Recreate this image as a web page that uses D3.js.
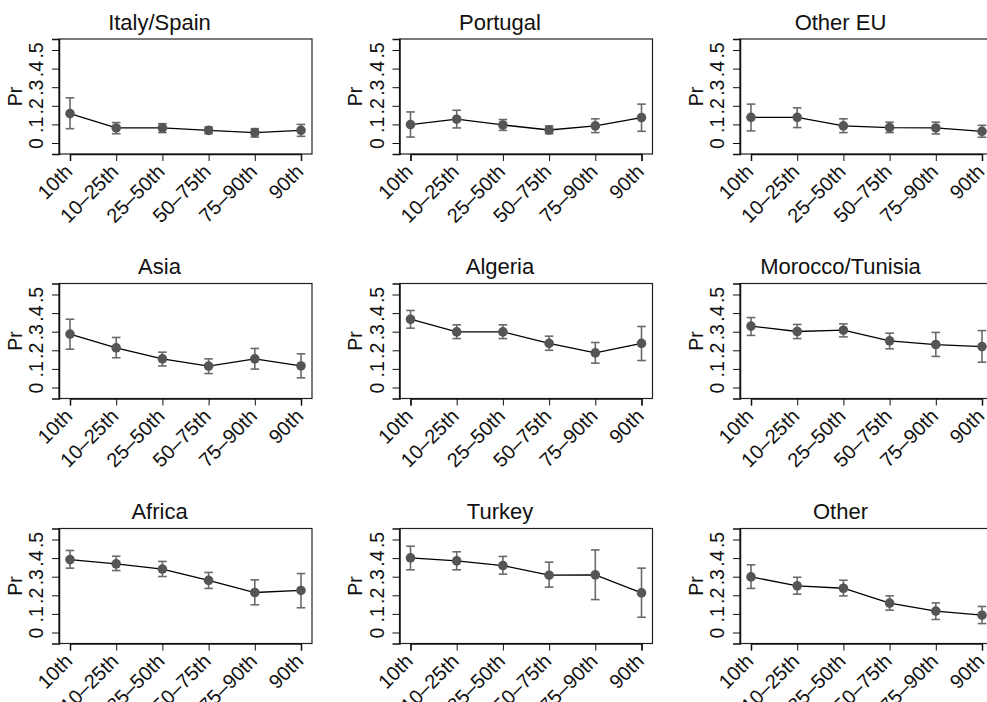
<!DOCTYPE html>
<html><head><meta charset="utf-8">
<script src="https://cdn.jsdelivr.net/npm/d3@7"></script>
<style>body{margin:0;background:#fff;} svg{display:block;font-family:"Liberation Sans",Arial,Helvetica,sans-serif;}</style>
</head><body>
<svg id="c" width="987" height="702"></svg>
<script>
const categories = ["10th","10–25th","25–50th","50–75th","75–90th","90th"];
const groups = ["Italy/Spain","Portugal","Other EU","Asia","Algeria","Morocco/Tunisia","Africa","Turkey","Other"];
const yTicks = [0,0.1,0.2,0.3,0.4,0.5];
const yTickLabels = ["0",".1",".2",".3",".4",".5"];
const yLabel = "Pr";

const estItalySpain = [0.158,0.081,0.081,0.068,0.056,0.068];
const loItalySpain  = [0.077,0.050,0.056,0.050,0.032,0.036];
const hiItalySpain  = [0.243,0.110,0.104,0.086,0.077,0.100];

const estPortugal = [0.099,0.128,0.097,0.070,0.092,0.137];
const loPortugal  = [0.032,0.081,0.068,0.050,0.056,0.063];
const hiPortugal  = [0.167,0.176,0.126,0.092,0.130,0.209];

const estOtherEU = [0.138,0.138,0.092,0.083,0.081,0.063];
const loOtherEU  = [0.065,0.083,0.056,0.056,0.049,0.031];
const hiOtherEU  = [0.209,0.189,0.130,0.112,0.112,0.095];

const estAsia = [0.287,0.213,0.154,0.115,0.154,0.116];
const loAsia  = [0.206,0.160,0.116,0.075,0.099,0.052];
const hiAsia  = [0.367,0.269,0.190,0.154,0.210,0.181];

const estAlgeria = [0.367,0.299,0.299,0.237,0.186,0.237];
const loAlgeria  = [0.319,0.263,0.263,0.200,0.131,0.145];
const hiAlgeria  = [0.414,0.337,0.337,0.276,0.242,0.328];

const estMorocco = [0.330,0.301,0.308,0.251,0.231,0.220];
const loMorocco  = [0.280,0.263,0.272,0.208,0.167,0.136];
const hiMorocco  = [0.376,0.339,0.342,0.292,0.296,0.306];

const estAfrica = [0.392,0.369,0.341,0.280,0.215,0.226];
const loAfrica  = [0.346,0.333,0.301,0.237,0.149,0.133];
const hiAfrica  = [0.441,0.410,0.382,0.323,0.283,0.317];

const estTurkey = [0.401,0.385,0.360,0.308,0.310,0.213];
const loTurkey  = [0.337,0.337,0.314,0.244,0.177,0.082];
const hiTurkey  = [0.464,0.434,0.409,0.378,0.444,0.346];

const estOther = [0.299,0.251,0.238,0.158,0.115,0.093];
const loOther  = [0.237,0.206,0.197,0.120,0.070,0.048];
const hiOther  = [0.364,0.297,0.281,0.197,0.159,0.140];

const series = [
  [estItalySpain,loItalySpain,hiItalySpain],
  [estPortugal,loPortugal,hiPortugal],
  [estOtherEU,loOtherEU,hiOtherEU],
  [estAsia,loAsia,hiAsia],
  [estAlgeria,loAlgeria,hiAlgeria],
  [estMorocco,loMorocco,hiMorocco],
  [estAfrica,loAfrica,hiAfrica],
  [estTurkey,loTurkey,hiTurkey],
  [estOther,loOther,hiOther]
];

const svg = d3.select("#c");
svg.append("rect").attr("width",987).attr("height",702).attr("fill","#fff");

const colX = [59, 399.5, 740];
const rowY = [39, 283.5, 528.5];
const W = 253, H = 115;

const x = d3.scalePoint().domain(categories).range([11, 242]);
const y = d3.scaleLinear().domain([-0.0591, 0.5591]).range([H, 0]);

groups.forEach((g, i) => {
  const [est, lo, hi] = series[i];
  const p = svg.append("g").attr("transform", `translate(${colX[i%3]},${rowY[Math.floor(i/3)]})`);
  // frame
  p.append("rect").attr("x",0).attr("y",0).attr("width",W).attr("height",H)
    .attr("fill","none").attr("stroke","#222").attr("stroke-width",1.2);
  // y axis
  const ya = p.append("g").call(d3.axisLeft(y).tickValues(yTicks).tickSize(7)
      .tickFormat((d,k)=>yTickLabels[k]));
  ya.select(".domain").attr("stroke","#111").attr("stroke-width",1.5);
  ya.selectAll(".tick line").attr("stroke","#111").attr("stroke-width",1);
  ya.selectAll(".tick text").attr("font-size",19.5).attr("fill","#111")
    .attr("font-family","Liberation Sans, Arial, sans-serif")
    .attr("text-anchor","middle").attr("dominant-baseline","central")
    .attr("x",0).attr("dy",null)
    .attr("transform","translate(-23,0) rotate(-90)");
  // x axis
  const xa = p.append("g").attr("transform",`translate(0,${H})`)
    .call(d3.axisBottom(x).tickSize(7));
  xa.select(".domain").attr("stroke","#111").attr("stroke-width",1.5);
  xa.selectAll(".tick line").attr("stroke","#111").attr("stroke-width",1);
  xa.selectAll(".tick text").attr("font-size",20).attr("fill","#111")
    .attr("font-family","Liberation Sans, Arial, sans-serif")
    .attr("text-anchor","end").attr("y",0).attr("dy",null)
    .attr("transform","translate(3,19) rotate(-45)");
  // y label
  p.append("text").attr("transform",`translate(-44.5,${H/2}) rotate(-90)`)
    .attr("text-anchor","middle").attr("dominant-baseline","central")
    .attr("font-size",19.5).attr("fill","#111").text(yLabel);
  // title
  p.append("text").attr("x",100.5).attr("y",-9.5).attr("text-anchor","middle")
    .attr("font-size",22).attr("fill","#111").text(g);
  // error bars
  const eb = p.append("g").attr("stroke","#6a6a6a").attr("stroke-width",1.6).attr("fill","none");
  categories.forEach((c,k) => {
    const cx = x(c);
    eb.append("line").attr("x1",cx).attr("x2",cx).attr("y1",y(lo[k])).attr("y2",y(hi[k]));
    eb.append("line").attr("x1",cx-4.3).attr("x2",cx+4.3).attr("y1",y(lo[k])).attr("y2",y(lo[k]));
    eb.append("line").attr("x1",cx-4.3).attr("x2",cx+4.3).attr("y1",y(hi[k])).attr("y2",y(hi[k]));
  });
  // line
  p.append("path").datum(est)
    .attr("d", d3.line().x((d,k)=>x(categories[k])).y(d=>y(d)))
    .attr("fill","none").attr("stroke","#000").attr("stroke-width",1.3);
  // points
  p.append("g").selectAll("circle").data(est).join("circle")
    .attr("cx",(d,k)=>x(categories[k])).attr("cy",d=>y(d)).attr("r",4.8)
    .attr("fill","#555");
});
</script>
</body></html>
